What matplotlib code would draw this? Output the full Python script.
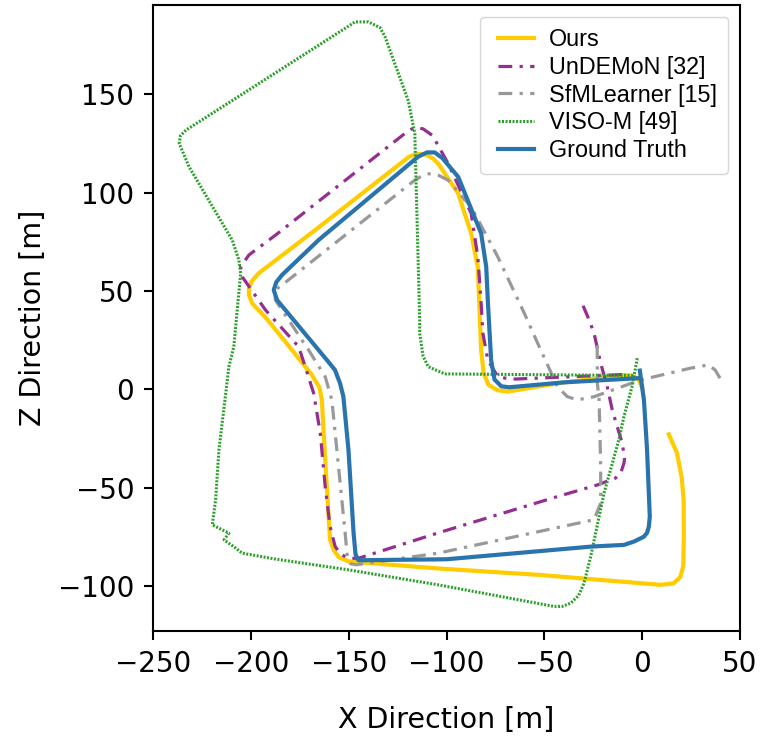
import matplotlib
matplotlib.use("Agg")
import matplotlib.pyplot as plt
from matplotlib.lines import Line2D
from matplotlib.legend_handler import HandlerLine2D

# Trajectory coordinates in metres (x, z), one list per method.
ours_x = [13.6, 17.8, 20.2, 21.2, 21.3, 21.0, 19.5, 16.0, 9.3, -53.4, -104.0, -150.0, -155.0, -157.5,
          -159.5, -162.0, -163.7, -165.0, -168.8, -179.0, -192.0, -199.3, -201.0, -201.0, -199.5,
          -196.0, -167.1, -119.1, -115.0, -111.0, -107.0, -104.3, -94.0, -87.4, -84.0, -82.3,
          -81.0, -78.5, -74.0, -68.7, -43.3, -9.3, -4.5, -1.5, 0.0]
ours_z = [-22.9, -32.5, -45.0, -56.3, -75.0, -90.0, -95.5, -98.8, -99.5, -94.4, -91.2, -87.6, -85.5,
          -82.0, -76.6, -35.9, -5.4, 1.0, 7.3, 20.0, 36.0, 43.7, 48.0, 51.3, 55.0, 59.0, 81.0, 118.3,
          119.8, 119.5, 117.5, 114.9, 99.6, 79.3, 62.3, 20.0, 8.0, 2.2, -0.5, -1.2, 3.0, 7.3, 6.8,
          4.5, 0.5]

undemon_x = [-30.2, -27.0, -24.6, -21.2, -18.0, -15.3, -10.2, -9.0, -9.3, -11.0, -13.6, -22.9, -43.3,
             -104.0, -145.0, -150.0, -154.0, -156.9, -159.5, -162.0, -164.5, -167.9, -172.2, -175.6,
             -192.5, -204.4, -205.2, -201.0, -187.4, -121.3, -116.5, -112.0, -107.0, -104.3, -99.2,
             -87.4, -84.0, -82.4, -81.4, -78.9, -73.8, -67.0, -9.3]
undemon_z = [42.5, 35.0, 28.5, 13.2, 2.0, -10.5, -27.5, -35.0, -37.6, -42.7, -45.2, -48.7, -54.6,
             -73.0, -86.0, -86.0, -84.0, -80.0, -69.9, -49.5, -22.4, -2.0, 11.5, 21.7, 40.3, 57.2,
             62.3, 68.3, 78.4, 130.1, 133.2, 132.5, 129.0, 124.0, 114.9, 89.5, 67.4, 45.4, 28.5, 14.9,
             6.4, 5.1, 7.5]

sfm_x = [39.8, 37.3, 33.9, 24.6, -0.9, -24.6, -33.1, -38.2, -43.3, -53.4, -60.2, -73.8, -87.4, -99.2,
         -104.0, -107.7, -111.5, -116.2, -184.1, -187.5, -187.5, -170.5, -162.0, -158.6, -155.2,
         -151.8, -150.8, -149.0, -146.0, -104.3, -24.6, -22.9, -21.2, -21.2, -22.0, -22.9, -23.0]
sfm_z = [5.6, 9.8, 12.4, 10.7, 4.7, -3.8, -5.4, -3.8, 1.3, 23.4, 38.6, 67.4, 92.8, 106.4, 108.8, 109.8,
         109.2, 106.4, 53.0, 50.5, 45.4, 20.0, 6.4, -5.4, -39.3, -73.2, -84.0, -88.8, -89.3,
         -83.4, -66.4, -62.2, -58.0, -39.3, -5.4, 3.0, 24.0]

viso_x = [-2.5, -5.0, -9.3, -11.9, -19.5, -26.3, -29.7, -32.5, -36.5, -41.0, -45.0, -104.3, -150.0,
          -187.5, -204.4, -207.8, -213.7, -211.2, -219.7, -218.0, -216.3, -211.2, -208.7, -205.2,
          -206.1, -209.5, -231.6, -236.6, -236.0, -233.2, -146.7, -139.9, -134.0, -131.4, -119.6,
          -116.2, -113.7, -113.7, -112.0, -109.4, -100.9, -4.0]
viso_z = [15.8, 2.0, -13.9, -25.6, -52.9, -85.1, -98.6, -105.0, -108.8, -110.5, -110.5, -99.5, -91.9,
          -86.4, -83.4, -80.8, -76.6, -73.2, -69.0, -56.3, -30.9, 11.5, 21.7, 59.0, 65.7, 75.9,
          113.2, 125.1, 129.0, 131.8, 186.9, 186.9, 184.0, 179.3, 147.0, 130.1, 35.2, 28.5, 17.0,
          11.5, 7.8, 7.0]

gt_x = [-1.2, 0.9, 2.5, 3.9, 3.4, 2.5, 0.9, -4.2, -9.3, -25.4, -100.0, -145.0, -146.5, -147.5, -150.1,
        -152.7, -154.4, -157.0, -160.0, -186.6, -188.3, -187.0, -184.1, -165.4, -114.5,
        -110.0, -106.0, -102.0, -94.0, -82.3, -79.7, -78.9, -77.2, -75.5, -72.0, -68.0, -40.0, -2.5]
gt_z = [9.5, -5.4, -30.9, -64.8, -70.0, -73.0, -75.0, -77.5, -79.2, -80.0, -86.5, -87.0, -84.0, -73.0,
        -30.9, -3.8, 3.0, 9.8, 13.5, 45.4, 50.5, 54.5, 58.1, 75.9, 118.3, 120.5, 120.5, 117.5,
        108.0, 79.3, 62.3, 45.4, 14.9, 5.0, 1.5, 1.0, 3.5, 5.6]

plt.rcParams["font.family"] = "DejaVu Sans"

fig = plt.figure(figsize=(7.63, 7.38), dpi=100)
ax = fig.add_axes([153 / 763, 107 / 738, 587 / 763, 626 / 738])

dashdot = (0, (4.3, 2.3, 1.0, 2.3))
ax.plot(ours_x, ours_z, color="#FFCC00", lw=3.0, label="Ours", solid_joinstyle="round")
ax.plot(undemon_x, undemon_z, color="#952E91", lw=2.3, ls=dashdot, label="UnDEMoN [32]")
ax.plot(sfm_x, sfm_z, color="#999999", lw=2.3, ls=dashdot, label="SfMLearner [15]")
ax.plot(viso_x, viso_z, color="#2CA02C", lw=2.2, ls=(0, (0.65, 0.5)), label="VISO-M [49]")
ax.plot(gt_x, gt_z, color="#2A74AE", lw=3.0, label="Ground Truth", solid_joinstyle="round")

ax.set_xlim(-250, 50)
ax.set_ylim(-123, 195.5)
ax.set_xticks([-250, -200, -150, -100, -50, 0, 50])
ax.set_yticks([-100, -50, 0, 50, 100, 150])
ax.tick_params(labelsize=20, length=6.5, width=1.5, pad=7)
for s in ax.spines.values():
    s.set_linewidth(1.5)

ax.set_xlabel("X Direction [m]", fontsize=20.5, labelpad=20)
ax.set_ylabel("Z Direction [m]", fontsize=20.5, labelpad=8)

# shorter visible handle lines, with the gap kept on the left side
ax.legend(loc="upper right", prop={"family": "Liberation Sans", "size": 16.8},
          handlelength=1.8, handletextpad=0.65, labelspacing=0.2, borderpad=0.5,
          handler_map={Line2D: HandlerLine2D(xpad=0.28)})

fig.savefig("out.png", dpi=100)
